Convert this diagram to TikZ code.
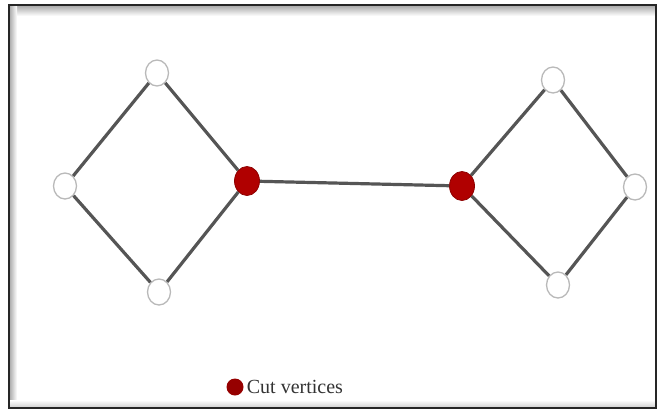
\documentclass[tikz,border=0pt]{standalone}
\usepackage{fontspec}
\setmainfont{Liberation Serif}
\usetikzlibrary{shapes.geometric}
\definecolor{cutred}{HTML}{B00000}
\definecolor{edgegray}{HTML}{555555}
\begin{document}
\begin{tikzpicture}[x=1pt,y=-1pt,
  plain/.style={ellipse,draw=gray!55,line width=1.3pt,fill=white,minimum width=23pt,minimum height=26pt,inner sep=0pt},
  cut/.style={ellipse,draw=cutred!80!black,line width=0.8pt,fill=cutred,minimum width=25pt,minimum height=29pt,inner sep=0pt},
  link/.style={draw=edgegray,line width=3.2pt}]
\useasboundingbox (0,0) rectangle (660,410);
\fill[white] (0,0) rectangle (660,410);
% framed panel with a soft inner shadow
\shade[top color=gray!70,bottom color=white] (9,5) rectangle (656,16);
\shade[left color=gray!70,right color=white] (9,5) rectangle (17,408);
\shade[top color=white,bottom color=gray!40] (9,400) rectangle (656,408);
\draw[gray!30!black,line width=1.8pt] (9,5) rectangle (656,408);
% vertices
\node[plain] (a1) at (157,73) {};
\node[plain] (a2) at (65,186) {};
\node[plain] (a3) at (159,292) {};
\node[cut]   (c1) at (247,181) {};
\node[cut]   (c2) at (462,186) {};
\node[plain] (b1) at (553,80) {};
\node[plain] (b2) at (635,187) {};
\node[plain] (b3) at (558,285) {};
% edges
\draw[link] (a1) -- (a2);
\draw[link] (a2) -- (a3);
\draw[link] (a3) -- (c1);
\draw[link] (c1) -- (a1);
\draw[link] (c1) -- (c2);
\draw[link] (c2) -- (b1);
\draw[link] (b1) -- (b2);
\draw[link] (b2) -- (b3);
\draw[link] (b3) -- (c2);
% legend
\node[circle,fill=cutred!85!black,minimum size=17pt,inner sep=0pt] (lg) at (235,387) {};
\node[anchor=west,inner sep=0pt,xshift=3pt,font=\fontsize{20}{22}\selectfont,text=black!80] (lt) at (lg.east) {Cut vertices};
\end{tikzpicture}
\end{document}
